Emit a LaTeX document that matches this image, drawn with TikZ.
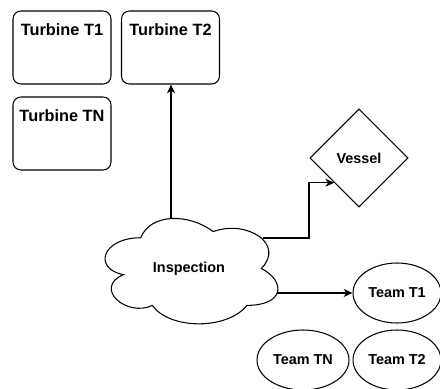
\documentclass[tikz,border=0pt]{standalone}
\usepackage{fontspec}
\setmainfont{Liberation Sans}
\usetikzlibrary{shapes.geometric, arrows.meta}

\begin{document}
\begin{tikzpicture}[x=0.02cm, y=-0.02cm, line width=0.6pt,
    turbine/.style={draw, rounded corners=4.5pt, minimum width=1.96cm, minimum height=1.46cm, inner sep=0pt},
    turbinetitle/.style={anchor=center, yshift=-10.8pt, inner sep=0pt, font=\fontsize{9.3}{11}\selectfont\bfseries},
    team/.style={draw, ellipse, minimum width=1.76cm, minimum height=1.2cm, inner sep=0pt, font=\fontsize{8.2}{10}\selectfont\bfseries},
    flow/.style={-{Stealth[length=5pt, width=4.5pt, inset=1.5pt]}}]
    \useasboundingbox (0,0) rectangle (440,389);

    % 风机
    \node[turbine, label={[turbinetitle]north:Turbine T1}] (t1) at (62,47.5) {};
    \node[turbine, label={[turbinetitle]north:Turbine T2}] (t2) at (170.5,47.5) {};
    \node[turbine, label={[turbinetitle]north:Turbine TN}] (tn) at (62,133.5) {};

    % 船
    \node[draw, diamond, aspect=1, minimum width=1.96cm, minimum height=1.96cm, inner sep=0pt,
        font=\fontsize{8.2}{10}\selectfont\bfseries] (vessel) at (359,158) {Vessel};

    % 团队
    \node[team] (team1) at (397,293) {Team T1};
    \node[team, minimum width=1.84cm] (teamn) at (303,360) {Team TN};
    \node[team] (team2) at (397,360) {Team T2};

    % 云 (检查)
    \begin{scope}[shift={(92.5,207)}, x=3.86cm, y=-2.46cm]
        \draw (0.25,0.25) .. controls (0.05,0.25) and (0,0.5) .. (0.16,0.55)
            .. controls (0,0.66) and (0.18,0.9) .. (0.31,0.8)
            .. controls (0.4,1) and (0.7,1) .. (0.8,0.8)
            .. controls (1,0.8) and (1,0.6) .. (0.875,0.5)
            .. controls (1,0.3) and (0.8,0.1) .. (0.625,0.2)
            .. controls (0.5,0.05) and (0.3,0.05) .. (0.25,0.25) -- cycle;
    \end{scope}
    \node[font=\fontsize{8.2}{10}\selectfont\bfseries] (insp) at (189,268.5) {Inspection};

    % 云边上的出发点
    \coordinate (insp top) at (171,218.5);
    \coordinate (insp ne) at (263,238);
    \coordinate (insp se) at (277,293);

    % 连线
    \draw[flow] (insp top) -- (insp top |- t2.south);
    \draw[flow] (insp ne) -- ++(46,0) |- (vessel.south west);
    \draw[flow] (insp se) -- (team1.west);
\end{tikzpicture}
\end{document}
